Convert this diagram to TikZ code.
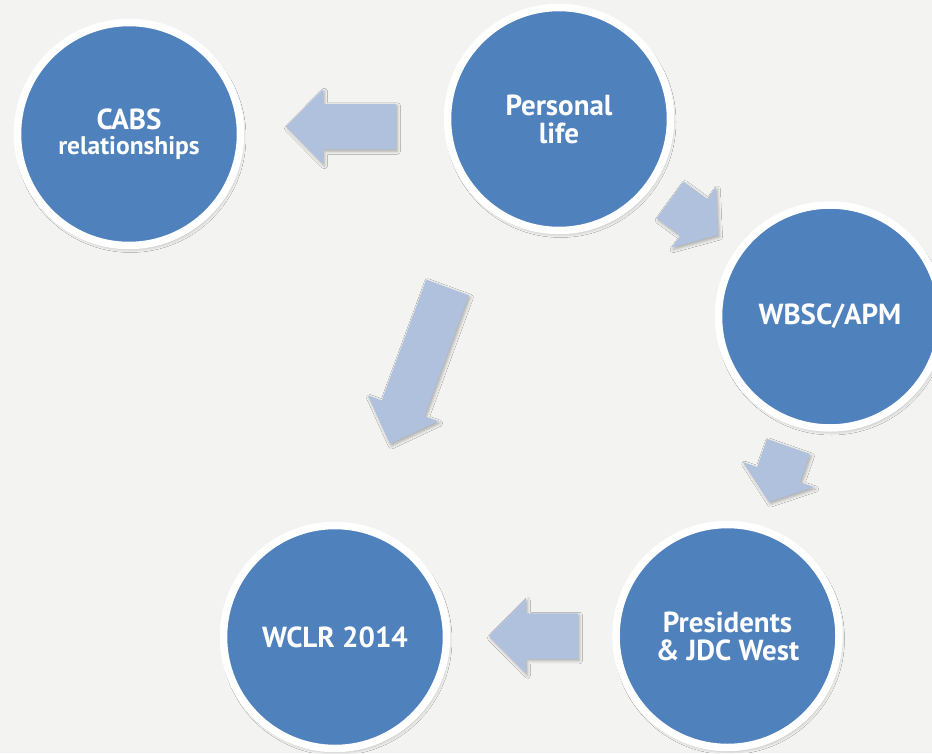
\documentclass[tikz,border=0pt]{standalone}
\usepackage{fontspec}
\setmainfont{PT Sans}
\usetikzlibrary{calc,shadows.blur}
\definecolor{bg}{HTML}{F3F3F1}
\definecolor{circfill}{HTML}{4F81BD}
\definecolor{arrfill}{HTML}{B0C1DD}
\tikzset{
  stage/.style={circle, minimum size=223pt, inner sep=0pt, fill=circfill, draw=white,
    line width=7.5pt, text=white, font=\bfseries\fontsize{29}{28}\selectfont, align=center,
    blur shadow={shadow xshift=1.5pt, shadow yshift=-3pt, shadow blur radius=4pt, shadow opacity=35}},
  arrowshape/.style={fill=arrfill,
    blur shadow={shadow xshift=1.5pt, shadow yshift=-2pt, shadow blur radius=3pt, shadow opacity=30}}
}
\newcommand\blockarr[3]{%
  \fill[arrowshape] ($(#1)!22.75pt!90:(#2)$) -- ($(#2)!#3!(#1)!22.75pt!-90:(#1)$) --
    ($(#2)!#3!(#1)!37.5pt!-90:(#1)$) -- (#2) -- ($(#2)!#3!(#1)!37.5pt!90:(#1)$) --
    ($(#2)!#3!(#1)!22.75pt!90:(#1)$) -- ($(#1)!22.75pt!-90:(#2)$) -- cycle;}
\begin{document}
\begin{tikzpicture}[x=1pt,y=1pt]
  \useasboundingbox (0,0) rectangle (932,-753);
  \clip (0,0) rectangle (932,-753);
  \fill[bg] (0,0) rectangle (932,-753);
  % arrow end points
  \coordinate (a1s) at (396,-126.5); \coordinate (a1e) at (286,-126.5);
  \coordinate (a2s) at (670,-200);   \coordinate (a2e) at (718,-235);
  \coordinate (a3s) at (447.5,-287.5); \coordinate (a3e) at (390,-444);
  \coordinate (a4s) at (788.5,-446.5); \coordinate (a4e) at (769,-502);
  \coordinate (a5s) at (578,-636);   \coordinate (a5e) at (489,-636);
  \blockarr{a1s}{a1e}{37pt}
  \blockarr{a2s}{a2e}{30pt}
  \blockarr{a3s}{a3e}{38pt}
  \blockarr{a4s}{a4e}{29pt}
  \blockarr{a5s}{a5e}{37pt}
  % stages
  \node[stage] (cabs) at (129,-134) {CABS\\[-3pt]{\fontsize{25.5}{25}\selectfont relationships}};
  \node[stage] (personal) at (559,-119) {Personal\\life};
  \node[stage] (wbsc) at (830,-316.5) {WBSC/APM};
  \node[stage] (wclr) at (335,-637) {WCLR 2014};
  \node[stage] (pres) at (727.5,-636) {Presidents\\\&~JDC West};
\end{tikzpicture}
\end{document}
